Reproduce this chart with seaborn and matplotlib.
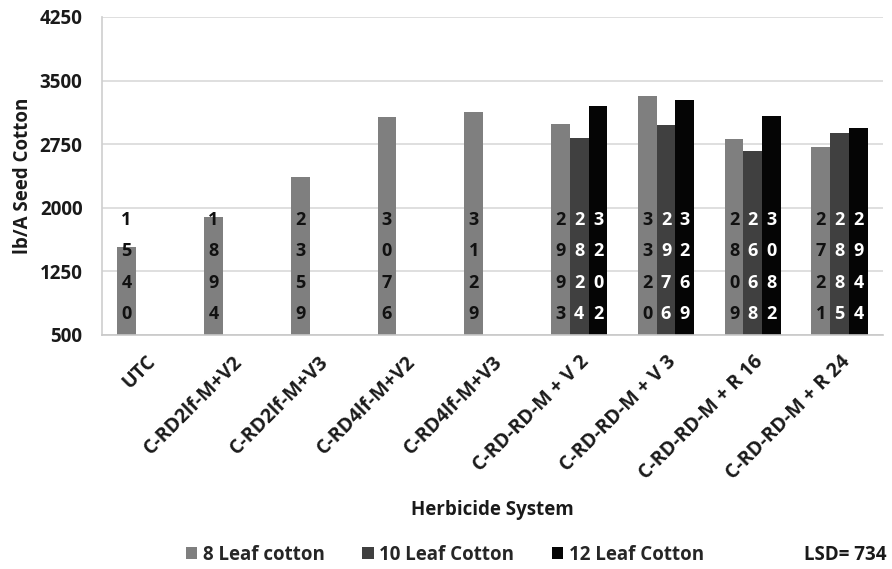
import numpy as np
import pandas as pd
import seaborn as sns
import matplotlib.pyplot as plt
from matplotlib.patches import Patch

categories = ["UTC", "C-RD2lf-M+V2", "C-RD2lf-M+V3", "C-RD4lf-M+V2", "C-RD4lf-M+V3",
              "C-RD-RD-M + V 2", "C-RD-RD-M + V 3", "C-RD-RD-M + R 16", "C-RD-RD-M + R 24"]
series = ["8 Leaf cotton", "10 Leaf Cotton", "12 Leaf Cotton"]
leaf8 = [1540, 1894, 2359, 3076, 3129, 2993, 3320, 2809, 2721]
leaf10 = [None, None, None, None, None, 2824, 2976, 2668, 2885]
leaf12 = [None, None, None, None, None, 3202, 3269, 3082, 2944]
yticks = [500, 1250, 2000, 2750, 3500, 4250]
colors = ["#7f7f7f", "#404040", "#050505"]
label_colors = ["#111111", "white", "white"]
lsd_text = "LSD= 734"

rows = []
for s, vals in zip(series, [leaf8, leaf10, leaf12]):
    for c, v in zip(categories, vals):
        if v is not None:
            rows.append({"system": c, "series": s, "value": v})
df = pd.DataFrame(rows)

sns.set_theme(style="white")
plt.rcParams['font.family'] = ['Open Sans', 'DejaVu Sans']
plt.rcParams['font.weight'] = 'bold'
TXT = "#1a1a1a"
FS = 13.5

fig = plt.figure(figsize=(8.92, 5.69), dpi=100)
ax = fig.add_axes([102/892, 1-335/569, (883-102)/892, (335-17)/569])

sns.barplot(data=df, x="system", y="value", hue="series", order=categories,
            hue_order=series, palette=colors, saturation=1, width=0.65,
            ax=ax, legend=False, edgecolor="none")

ax.set_ylim(500, 4250)
ax.set_xlim(-0.5, len(categories) - 0.5)
ax.set_yticks(yticks)
ax.set_yticklabels([str(t) for t in yticks], fontsize=FS, fontweight='bold', color=TXT)
ax.yaxis.grid(True, color="#d9d9d9", linewidth=1.2)
ax.set_axisbelow(True)
for sp in ["top", "right"]:
    ax.spines[sp].set_visible(False)
ax.spines["left"].set_color("#d0d0d0")
ax.spines["bottom"].set_color("#c8c8c8")
ax.spines["bottom"].set_linewidth(1.2)

ax.set_xticks(range(len(categories)))
ax.set_xticklabels(categories, rotation=45, ha="right", rotation_mode="anchor",
                   fontsize=14, fontweight="bold", color=TXT)
ax.tick_params(axis="x", length=0, pad=12)
ax.tick_params(axis="y", length=6, width=1.2, color="#d9d9d9", pad=8)
ax.set_xticks(np.arange(-0.5, len(categories), 1.0), minor=True)
ax.tick_params(axis="x", which="minor", length=5, color="#c8c8c8", width=1)

ax.set_xlabel("Herbicide System", fontsize=FS, fontweight="bold", color=TXT)
ax.xaxis.set_label_coords(0.5, -0.52)
ax.set_ylabel("lb/A Seed Cotton", fontsize=FS, fontweight="bold", color=TXT)
ax.yaxis.set_label_coords(-0.088, 0.5)

# vertical stacked digit labels at base of bars
step = 372
base = 744
for cont, lc in zip(ax.containers, label_colors):
    for bar, val in zip(cont.patches, cont.datavalues):
        if np.isnan(val) or bar.get_height() == 0:
            continue
        xc = bar.get_x() + bar.get_width() / 2
        digits = str(int(round(val)))
        n = len(digits)
        for i, d in enumerate(digits):
            yv = base + step * (n - 1 - i)
            ax.text(xc, yv, d, ha="center", va="center", fontsize=13,
                    fontweight="bold", color=lc)

handles = [Patch(facecolor=c, edgecolor="none") for c in colors]
fig.legend(handles, series, loc="center", bbox_to_anchor=(445/892, 1-555/569),
           ncol=3, frameon=False, handlelength=0.6, handleheight=0.6,
           handletextpad=0.3, columnspacing=2.0, prop={"weight": "bold", "size": FS})
fig.text(845/892, 1-555/569, lsd_text, ha="center", va="center", fontsize=FS,
         fontweight="bold", color=TXT)

fig.savefig("out.png", dpi=100)
